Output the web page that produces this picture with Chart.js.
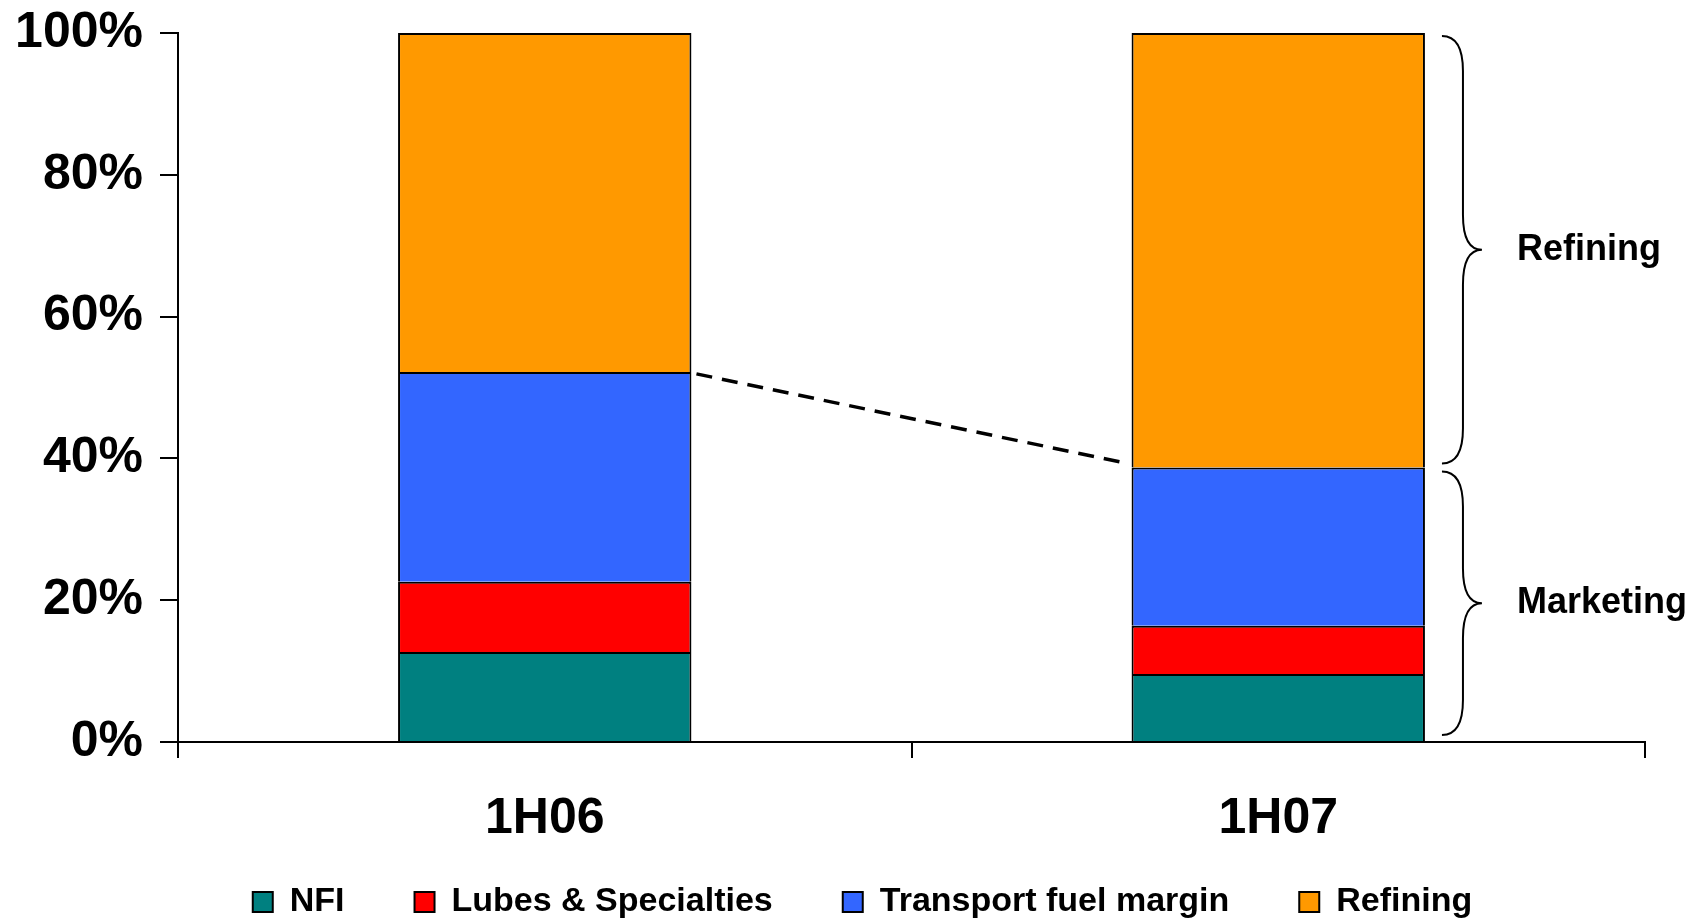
<!DOCTYPE html>
<html>
<head>
<meta charset="utf-8">
<title>Margin mix 1H06 vs 1H07</title>
<script src="https://cdn.jsdelivr.net/npm/chart.js@4.4.1/dist/chart.umd.min.js"></script>
<style>
  html, body { margin: 0; padding: 0; background: #ffffff; }
  #wrap { width: 1696px; height: 919px; position: relative; }
</style>
</head>
<body>
<div id="wrap"><canvas id="chart"></canvas></div>
<script>
// Share of margin by business, per half-year (percent, each bar sums to 100)
const categories = ['1H06', '1H07'];
const seriesNames = ['NFI', 'Lubes & Specialties', 'Transport fuel margin', 'Refining'];
const nfi = [12.7, 9.6];
const lubes = [9.9, 6.8];
const transportFuel = [29.6, 22.3];
const refining = [47.8, 61.3];
const yTickLabels = ['0%', '20%', '40%', '60%', '80%', '100%'];
const braceLabels = ['Refining', 'Marketing'];

const FONT = '"Liberation Sans", Arial, Helvetica, sans-serif';
Chart.defaults.font.family = FONT;
Chart.defaults.color = '#000000';

// Nudge the legend row into place below the category labels
const legendPlacement = {
  id: 'legendPlacement',
  afterLayout(chart) {
    const lg = chart.legend;
    if (!lg) return;
    lg.left += 40; lg.right += 40;
    lg.top -= 34; lg.bottom -= 34;
  }
};

// Dashed connector between the marketing tops, and the braces on the right
const connectorAndBraces = {
  id: 'connectorAndBraces',
  afterDatasetsDraw(chart) {
    const ctx = chart.ctx;
    const yScale = chart.scales.y;
    const top = chart.getDatasetMeta(2).data; // transport segments (top of marketing)
    const a = top[0], b = top[1];

    ctx.save();
    ctx.strokeStyle = '#000000';
    ctx.lineWidth = 3.5;
    ctx.setLineDash([16, 10]);
    ctx.beginPath();
    ctx.moveTo(a.x + a.width / 2 + 5, a.y + 2);
    ctx.lineTo(b.x - b.width / 2 - 8, b.y - 5);
    ctx.stroke();
    ctx.setLineDash([]);

    const right = b.x + b.width / 2;
    const x0 = right + 17, x1 = right + 38, x2 = right + 57;
    const ry = 35;
    const brace = (yTop, yBot) => {
      const ym = (yTop + yBot) / 2;
      ctx.beginPath();
      ctx.moveTo(x0, yTop);
      ctx.quadraticCurveTo(x1, yTop, x1, yTop + ry);
      ctx.lineTo(x1, ym - ry);
      ctx.quadraticCurveTo(x1, ym, x2, ym);
      ctx.quadraticCurveTo(x1, ym, x1, ym + ry);
      ctx.lineTo(x1, yBot - ry);
      ctx.quadraticCurveTo(x1, yBot, x0, yBot);
      ctx.stroke();
      return ym;
    };
    ctx.lineWidth = 2;
    const yFull = yScale.getPixelForValue(100);
    const yZero = yScale.getPixelForValue(0);
    const mRef = brace(yFull + 3, b.y - 4);
    const mMkt = brace(b.y + 4, yZero - 7);

    ctx.fillStyle = '#000000';
    ctx.font = 'bold 36px ' + FONT;
    ctx.textAlign = 'left';
    ctx.textBaseline = 'middle';
    ctx.fillText(braceLabels[0], right + 92, mRef);
    ctx.fillText(braceLabels[1], right + 92, mMkt);
    ctx.restore();
  }
};

const seg = (label, data, color) => ({
  label,
  data,
  backgroundColor: color,
  borderColor: '#000000',
  borderWidth: 2,
  barPercentage: 0.4,
  categoryPercentage: 1.0
});

new Chart(document.getElementById('chart'), {
  type: 'bar',
  data: {
    labels: categories,
    datasets: [
      seg(seriesNames[0], nfi, '#008080'),
      seg(seriesNames[1], lubes, '#FF0000'),
      seg(seriesNames[2], transportFuel, '#3366FF'),
      seg(seriesNames[3], refining, '#FF9900')
    ]
  },
  options: {
    responsive: true,
    maintainAspectRatio: false,
    animation: false,
    layout: { padding: { top: 33, left: 0, right: 51, bottom: -44 } },
    plugins: {
      tooltip: { enabled: false },
      legend: {
        position: 'bottom',
        labels: {
          font: { size: 34, weight: 'bold' },
          color: '#000000',
          boxWidth: 20,
          boxHeight: 20,
          padding: 70
        }
      }
    },
    scales: {
      x: {
        stacked: true,
        afterFit(scale) { scale.height = 107; },
        grid: {
          offset: true,
          drawOnChartArea: false,
          drawTicks: true,
          tickLength: 16,
          color: '#000000',
          lineWidth: 2
        },
        border: { display: true, color: '#000000', width: 2 },
        ticks: {
          font: { size: 50, weight: 'bold' },
          color: '#000000',
          padding: 31
        }
      },
      y: {
        stacked: true,
        min: 0,
        max: 100,
        afterFit(scale) { scale.width = 178; },
        grid: {
          drawOnChartArea: false,
          drawTicks: true,
          tickLength: 18,
          color: '#000000',
          lineWidth: 2
        },
        border: { display: true, color: '#000000', width: 2 },
        ticks: {
          stepSize: 20,
          font: { size: 50, weight: 'bold', lineHeight: 0.6 },
          color: '#000000',
          padding: 17,
          callback: (value, index) => yTickLabels[index]
        }
      }
    }
  },
  plugins: [legendPlacement, connectorAndBraces]
});
</script>
</body>
</html>
